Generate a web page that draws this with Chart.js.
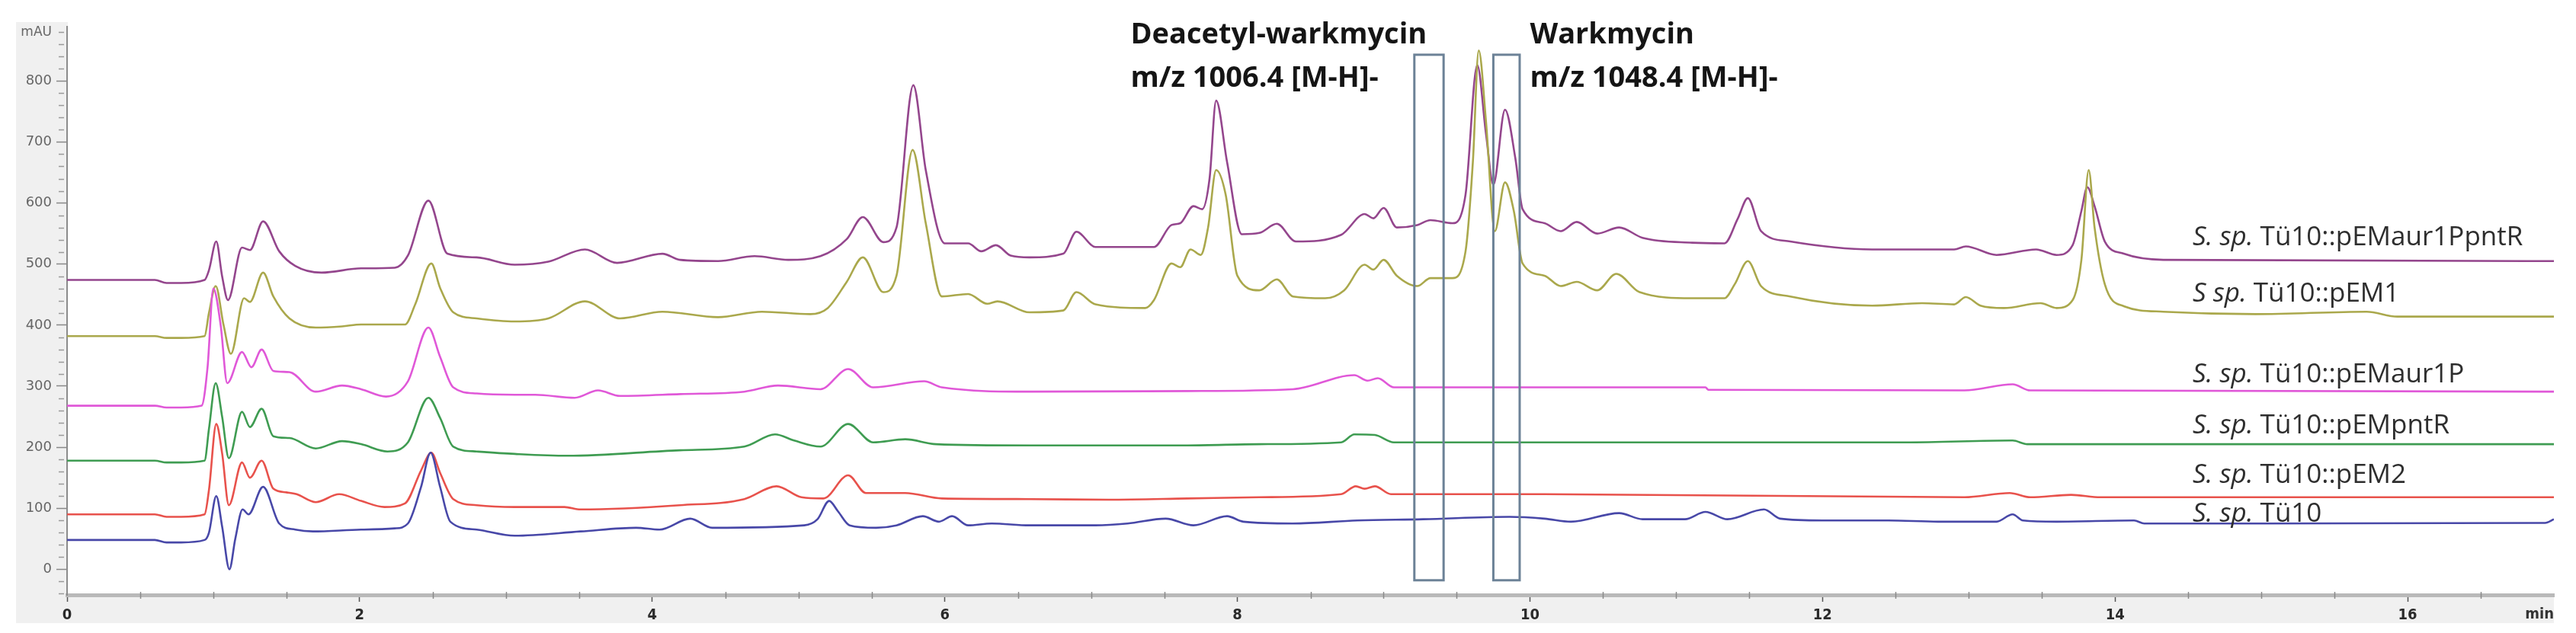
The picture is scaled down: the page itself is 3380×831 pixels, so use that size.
<!DOCTYPE html>
<html>
<head>
<meta charset="utf-8">
<script src="https://cdn.jsdelivr.net/npm/chart.js@4/dist/chart.umd.min.js"></script>
<style>
html,body{margin:0;padding:0;background:#fff;}
#wrap{width:3380px;height:831px;position:relative;}
</style>
</head>
<body>
<div id="wrap"><canvas id="c" width="3380" height="831"></canvas></div>
<script>
// ---------------- DATA (retention time in min, absorbance in mAU) ----------------
const seriesNames = [
  "S. sp. Tü10",
  "S. sp. Tü10::pEM2",
  "S. sp. Tü10::pEMpntR",
  "S. sp. Tü10::pEMaur1P",
  "S sp. Tü10::pEM1",
  "S. sp. Tü10::pEMaur1PpntR"
];
const labelItalic = ["S. sp.", "S. sp.", "S. sp.", "S. sp.", "S sp.", "S. sp."];
const labelRest   = [" Tü10", " Tü10::pEM2", " Tü10::pEMpntR", " Tü10::pEMaur1P", " Tü10::pEM1", " Tü10::pEMaur1PpntR"];

const tu10T = [0,0.6,0.68,0.78,0.94,0.97,1.02,1.06,1.11,1.15,1.2,1.24,1.34,1.45,1.56,1.68,2.01,2.24,2.33,2.42,2.485,2.55,2.62,2.8,3.06,3.51,3.89,4.05,4.26,4.41,5.04,5.13,5.21,5.27,5.35,5.53,5.67,5.85,5.96,6.05,6.16,6.32,6.58,7.03,7.25,7.51,7.7,7.93,8.04,8.38,8.82,9.27,9.86,10.1,10.28,10.61,10.77,11.06,11.2,11.35,11.6,11.71,12.0,12.45,12.79,13.19,13.3,13.37,13.6,14.13,14.2,16.94,17];
const tu10Y = [48,48,44,44,48,60,120,70,0,50,98,90,135,75,65,62,65,67,75,135,191,135,78,65,55,62,68,65,83,68,72,82,112,95,72,68,72,87,78,87,72,75,72,72,75,83,72,87,78,75,80,82,86,83,78,92,82,82,94,82,98,83,80,80,78,78,90,80,78,80,75,76,82];

const pem2T = [0,0.6,0.68,0.78,0.94,0.97,1.02,1.06,1.106,1.196,1.25,1.33,1.41,1.5,1.57,1.7,1.86,2.01,2.17,2.31,2.42,2.49,2.55,2.64,2.8,3.06,3.4,3.51,4.19,4.63,4.85,5.02,5.17,5.34,5.46,5.73,5.98,6.58,7.12,7.66,8.15,8.71,8.81,8.87,8.94,9.05,10.1,12.97,13.28,13.42,13.7,13.9,17];
const pem2Y = [90,90,86,86,90,130,238,190,105,175,150,178,132,126,123,110,123,112,102,108,162,191,158,115,105,102,102,98,105,115,136,118,116,154,125,125,116,115,114,116,118,123,136,132,136,123,123,118,125,118,122,118,118];

const pemPntRT = [0,0.6,0.68,0.78,0.94,0.97,1.016,1.06,1.106,1.196,1.25,1.33,1.41,1.52,1.7,1.88,2.01,2.19,2.33,2.47,2.55,2.64,2.8,3.06,3.42,4.19,4.63,4.84,4.97,5.15,5.34,5.51,5.73,5.94,6.58,7.66,8.15,8.71,8.8,8.94,9.07,10.1,12.57,13.3,13.4,17];
const pemPntRY = [178,178,175,175,178,230,305,250,182,258,233,263,218,215,198,210,205,193,208,281,248,201,193,189,186,195,201,221,211,201,238,208,213,205,203,203,205,208,221,220,208,208,208,211,205,205];

const pemAur1PT = [0,0.6,0.68,0.78,0.92,0.96,1.0,1.05,1.095,1.196,1.26,1.33,1.41,1.52,1.7,1.88,2.01,2.18,2.33,2.47,2.55,2.64,2.8,3.06,3.2,3.47,3.63,3.78,4.19,4.63,4.86,5.15,5.34,5.51,5.86,5.98,6.58,7.66,8.38,8.8,8.89,8.96,9.07,10.1,11.2,11.22,12.97,13.3,13.42,17];
const pemAur1PY = [268,268,265,265,268,330,460,400,305,356,331,360,325,323,291,301,295,283,308,396,348,298,288,286,286,281,293,284,287,291,301,295,328,298,308,298,291,292,295,318,309,313,298,298,298,294,293,303,293,291];

const pem1T = [0,0.6,0.68,0.78,0.94,0.97,1.016,1.07,1.12,1.21,1.25,1.34,1.41,1.52,1.7,1.88,2.01,2.31,2.38,2.49,2.55,2.64,2.8,3.06,3.29,3.54,3.78,4.07,4.45,4.75,5.08,5.2,5.33,5.44,5.58,5.67,5.78,5.87,5.98,6.16,6.29,6.36,6.58,6.81,6.9,7.03,7.37,7.43,7.55,7.61,7.68,7.75,7.8,7.855,7.92,8.0,8.15,8.27,8.38,8.6,8.73,8.87,8.93,9.0,9.09,9.23,9.32,9.47,9.56,9.61,9.65,9.7,9.76,9.83,9.89,9.95,10.1,10.21,10.32,10.46,10.59,10.75,11.11,11.33,11.4,11.49,11.58,11.78,12.34,12.68,12.9,12.98,13.08,13.24,13.49,13.6,13.71,13.77,13.82,13.86,13.93,14.06,14.33,14.96,15.72,15.93,17];
const pem1Y = [382,382,379,379,382,420,464,400,353,444,438,486,447,411,396,398,401,401,434,501,461,421,411,406,411,439,411,422,413,422,418,428,471,511,454,481,687,567,447,451,435,439,421,424,454,434,428,441,501,495,524,515,560,654,614,481,457,475,447,444,457,499,491,507,481,464,477,477,521,667,850,733,554,634,587,501,481,464,471,457,484,454,444,444,467,505,464,447,432,436,434,446,432,428,436,428,441,507,654,560,467,431,422,418,422,414,414];

const pemAur1PpntRT = [0,0.6,0.68,0.78,0.94,0.97,1.02,1.06,1.1,1.196,1.25,1.34,1.45,1.56,1.74,2.01,2.24,2.33,2.47,2.6,2.8,3.06,3.29,3.54,3.76,4.07,4.19,4.45,4.7,4.93,5.15,5.33,5.44,5.58,5.67,5.785,5.87,6.0,6.16,6.25,6.35,6.45,6.58,6.81,6.9,7.03,7.43,7.55,7.61,7.7,7.76,7.81,7.855,7.93,8.03,8.15,8.27,8.4,8.71,8.87,8.93,9.0,9.09,9.23,9.32,9.47,9.56,9.64,9.7,9.75,9.83,9.9,9.95,10.1,10.21,10.32,10.46,10.61,10.77,11.11,11.33,11.42,11.49,11.58,11.78,12.34,12.9,12.98,13.19,13.46,13.6,13.71,13.77,13.81,13.86,13.93,14.06,14.33,17];
const pemAur1PpntRY = [474,474,469,469,474,490,537,480,441,527,523,570,521,497,486,493,494,514,604,517,511,499,504,524,502,517,507,505,513,507,513,541,577,536,560,793,654,534,534,521,531,514,511,517,553,528,528,564,567,595,590,640,768,667,549,551,566,537,548,582,575,592,560,564,572,567,614,826,713,630,753,674,590,567,554,569,550,560,543,535,534,574,608,554,537,524,524,529,515,524,515,531,587,626,595,537,517,507,505];

// tick labels
const xMajorTicks = [0,2,4,6,8,10,12,14,16];
const yMajorTicks = [0,100,200,300,400,500,600,700,800];
const yUnitLabel = "mAU";
const xUnitLabel = "min";

// annotated regions (min / mAU)
const boxStartT = [9.21, 9.75];
const boxEndT   = [9.41, 9.93];
const boxLowY  = -18;
const boxHighY = 843;
const annotLine1 = ["Deacetyl-warkmycin", "Warkmycin"];
const annotLine2 = ["m/z 1006.4 [M-H]-", "m/z 1048.4 [M-H]-"];
const annotT = [7.27, 10.0];
const annotY1 = 862, annotY2 = 791;

// right-hand trace label anchors (min / mAU)
const traceLabelT = 14.53;
const traceLabelY = [78, 142, 223, 306, 438, 531];

// ---------------- STYLE ----------------
const colors = ["#4848a8", "#e8524c", "#3f9c52", "#e058d8", "#aaa84c", "#94468d"];
const xs = [tu10T, pem2T, pemPntRT, pemAur1PT, pem1T, pemAur1PpntRT];
const ys = [tu10Y, pem2Y, pemPntRY, pemAur1PY, pem1Y, pemAur1PpntRY];

const datasets = seriesNames.map((n, i) => ({
  label: n,
  data: xs[i].map((t, k) => ({x: t, y: ys[i][k]})),
  borderColor: colors[i],
  borderWidth: 2.6,
  pointRadius: 0,
  cubicInterpolationMode: 'monotone',
  fill: false
}));

const overlay = {
  id: 'overlay',
  beforeDraw(chart) {
    const {ctx, chartArea: a} = chart;
    ctx.save();
    ctx.fillStyle = '#ffffff';
    ctx.fillRect(0, 0, chart.width, chart.height);
    ctx.fillStyle = '#f0f0f0';
    ctx.fillRect(21, 29, a.right - 21, 818 - 29);
    ctx.fillStyle = '#ffffff';
    ctx.fillRect(a.left + 1, 0, a.right - a.left - 1, a.bottom - 2);
    ctx.restore();
  },
  afterDraw(chart) {
    const {ctx, chartArea: a, scales: {x, y}} = chart;
    ctx.save();
    // minor y ticks
    ctx.strokeStyle = '#9a9a9a';
    ctx.lineWidth = 1.5;
    for (let v = -40; v <= 880; v += 20) {
      if (v % 100 === 0 && v >= 0 && v <= 800) continue;
      const py = Math.round(y.getPixelForValue(v)) + 0.5;
      ctx.beginPath(); ctx.moveTo(a.left - 11, py); ctx.lineTo(a.left - 4, py); ctx.stroke();
    }
    // minor x ticks
    ctx.strokeStyle = '#8a8a8a';
    for (let v = 0.5; v < 17; v += 0.5) {
      if (v % 2 === 0) continue;
      const px = Math.round(x.getPixelForValue(v)) + 0.5;
      ctx.beginPath(); ctx.moveTo(px, a.bottom - 4); ctx.lineTo(px, a.bottom + 5); ctx.stroke();
    }
    // y unit label
    ctx.fillStyle = '#666';
    ctx.font = '17px "DejaVu Sans", sans-serif';
    ctx.textAlign = 'right'; ctx.textBaseline = 'middle';
    ctx.fillText(yUnitLabel, 68, y.getPixelForValue(880));
    // x unit label
    ctx.fillStyle = '#333';
    ctx.font = 'bold 20px "Liberation Sans Narrow", "DejaVu Sans Condensed", sans-serif';
    ctx.textAlign = 'right'; ctx.textBaseline = 'middle';
    ctx.fillText(xUnitLabel, a.right, 807);
    // boxes
    ctx.strokeStyle = '#6c8297';
    ctx.lineWidth = 3;
    for (let i = 0; i < boxStartT.length; i++) {
      const x1 = x.getPixelForValue(boxStartT[i]), x2 = x.getPixelForValue(boxEndT[i]);
      const y1 = y.getPixelForValue(boxHighY), y2 = y.getPixelForValue(boxLowY);
      ctx.strokeRect(x1, y1, x2 - x1, y2 - y1);
    }
    // annotations
    ctx.fillStyle = '#151515';
    ctx.font = 'bold 38px "Open Sans", sans-serif';
    ctx.textAlign = 'left'; ctx.textBaseline = 'alphabetic';
    for (let i = 0; i < annotLine1.length; i++) {
      const px = x.getPixelForValue(annotT[i]);
      ctx.fillText(annotLine1[i], px, y.getPixelForValue(annotY1));
      ctx.fillText(annotLine2[i], px, y.getPixelForValue(annotY2));
    }
    // trace labels
    ctx.fillStyle = '#2e2e2e';
    for (let i = 0; i < seriesNames.length; i++) {
      const px = x.getPixelForValue(traceLabelT);
      const py = y.getPixelForValue(traceLabelY[i]);
      ctx.font = 'italic 35px "Open Sans", sans-serif';
      ctx.fillText(labelItalic[i], px, py);
      const w = ctx.measureText(labelItalic[i]).width;
      ctx.font = '35px "Open Sans", sans-serif';
      ctx.fillText(labelRest[i], px + w, py);
    }
    ctx.restore();
  }
};

new Chart(document.getElementById('c'), {
  type: 'line',
  data: {datasets},
  options: {
    responsive: false,
    animation: false,
    devicePixelRatio: 1,
    layout: {padding: {left: 21, right: 29, top: 35, bottom: 0}},
    plugins: {legend: {display: false}, tooltip: {enabled: false}},
    scales: {
      x: {
        type: 'linear', min: 0, max: 17,
        afterBuildTicks: s => { s.ticks = xMajorTicks.map(v => ({value: v})); },
        afterFit: s => { s.height = 50; },
        grid: {drawOnChartArea: false, tickLength: 9, tickColor: '#555', tickWidth: 1.5},
        border: {color: '#b9b9b9', width: 5},
        ticks: {
          autoSkip: false, maxRotation: 0, padding: 6, color: '#2a2a2a',
          font: {family: '"Liberation Sans Narrow", "DejaVu Sans Condensed", sans-serif', size: 20, weight: 'bold'},
          callback: v => String(v)
        }
      },
      y: {
        type: 'linear', min: -42, max: 889,
        afterBuildTicks: s => { s.ticks = yMajorTicks.map(v => ({value: v})); },
        afterFit: s => { s.width = 67; },
        grid: {drawOnChartArea: false, tickLength: 14, tickColor: '#888', tickWidth: 1.5},
        border: {color: '#8c8c8c', width: 2},
        ticks: {
          autoSkip: false, padding: 6, color: '#666',
          font: {family: '"DejaVu Sans", sans-serif', size: 18},
          callback: v => String(v)
        }
      }
    }
  },
  plugins: [overlay]
});
</script>
</body>
</html>
